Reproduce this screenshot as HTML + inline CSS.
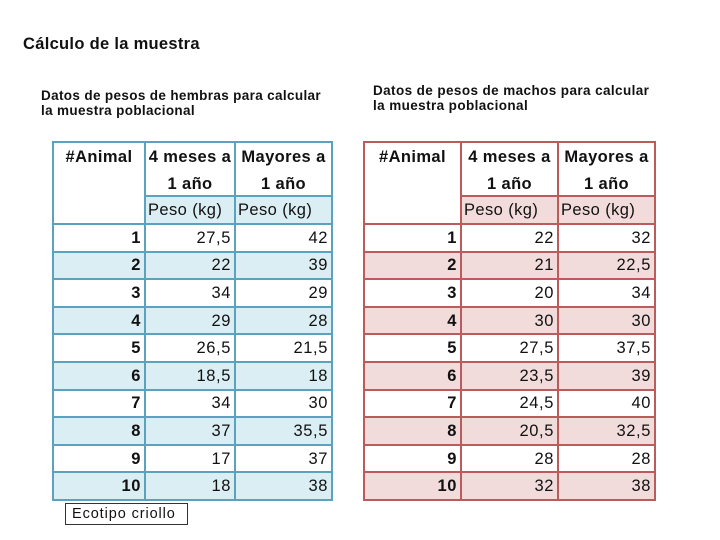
<!DOCTYPE html>
<html><head><meta charset="utf-8">
<style>
html,body{margin:0;padding:0;background:#fff;}
body{width:720px;height:540px;position:relative;overflow:hidden;font-family:"Liberation Sans",Arial,sans-serif;color:#111;}
.t{position:absolute;white-space:nowrap;font-weight:bold;}
.c{position:absolute;box-sizing:border-box;border:2px solid;display:flex;align-items:center;justify-content:flex-end;padding-right:3px;font-size:16.5px;letter-spacing:0.6px;white-space:nowrap;padding-top:1px;}
.L{border-color:#5ba2bf;}
.R{border-color:#bb5b5b;}
.L.f{background:#dbeef3;}
.R.f{background:#f2dcdb;}
.b{font-weight:bold;}
.h{display:block;text-align:center;line-height:27px;padding:1px 0 0 0;font-weight:bold;letter-spacing:0.4px;}
.p{justify-content:flex-start;padding-left:2px;padding-right:0;letter-spacing:0.4px;}
</style></head><body>

<div class="t" style="left:23px;top:36px;font-size:16.5px;line-height:16px;letter-spacing:0.3px;">Cálculo de la muestra</div>
<div class="t" style="left:41px;top:88.8px;font-size:13.5px;line-height:14.8px;letter-spacing:0.35px;">Datos de pesos de hembras para calcular<br>la muestra poblacional</div>
<div class="t" style="left:373px;top:83.8px;font-size:13.5px;line-height:14.8px;letter-spacing:0.4px;">Datos de pesos de machos para calcular<br>la muestra poblacional</div>

<!-- LEFT TABLE -->
<div class="c L h" style="left:52px;top:141px;width:94px;height:84px;">#Animal</div>
<div class="c L h" style="left:144px;top:141px;width:92px;height:56px;">4 meses a<br>1 año</div>
<div class="c L h" style="left:234px;top:141px;width:99px;height:56px;">Mayores a<br>1 año</div>
<div class="c L f p" style="left:144px;top:195px;width:92px;height:30px;">Peso (kg)</div>
<div class="c L f p" style="left:234px;top:195px;width:99px;height:30px;">Peso (kg)</div>

<div class="c L b" style="left:52px;top:223px;width:94px;height:29.6px;">1</div>
<div class="c L" style="left:144px;top:223px;width:92px;height:29.6px;">27,5</div>
<div class="c L" style="left:234px;top:223px;width:99px;height:29.6px;">42</div>

<div class="c L f b" style="left:52px;top:250.6px;width:94px;height:29.6px;">2</div>
<div class="c L f" style="left:144px;top:250.6px;width:92px;height:29.6px;">22</div>
<div class="c L f" style="left:234px;top:250.6px;width:99px;height:29.6px;">39</div>

<div class="c L b" style="left:52px;top:278.2px;width:94px;height:29.6px;">3</div>
<div class="c L" style="left:144px;top:278.2px;width:92px;height:29.6px;">34</div>
<div class="c L" style="left:234px;top:278.2px;width:99px;height:29.6px;">29</div>

<div class="c L f b" style="left:52px;top:305.8px;width:94px;height:29.6px;">4</div>
<div class="c L f" style="left:144px;top:305.8px;width:92px;height:29.6px;">29</div>
<div class="c L f" style="left:234px;top:305.8px;width:99px;height:29.6px;">28</div>

<div class="c L b" style="left:52px;top:333.4px;width:94px;height:29.6px;">5</div>
<div class="c L" style="left:144px;top:333.4px;width:92px;height:29.6px;">26,5</div>
<div class="c L" style="left:234px;top:333.4px;width:99px;height:29.6px;">21,5</div>

<div class="c L f b" style="left:52px;top:361px;width:94px;height:29.6px;">6</div>
<div class="c L f" style="left:144px;top:361px;width:92px;height:29.6px;">18,5</div>
<div class="c L f" style="left:234px;top:361px;width:99px;height:29.6px;">18</div>

<div class="c L b" style="left:52px;top:388.6px;width:94px;height:29.6px;">7</div>
<div class="c L" style="left:144px;top:388.6px;width:92px;height:29.6px;">34</div>
<div class="c L" style="left:234px;top:388.6px;width:99px;height:29.6px;">30</div>

<div class="c L f b" style="left:52px;top:416.2px;width:94px;height:29.6px;">8</div>
<div class="c L f" style="left:144px;top:416.2px;width:92px;height:29.6px;">37</div>
<div class="c L f" style="left:234px;top:416.2px;width:99px;height:29.6px;">35,5</div>

<div class="c L b" style="left:52px;top:443.8px;width:94px;height:29.6px;">9</div>
<div class="c L" style="left:144px;top:443.8px;width:92px;height:29.6px;">17</div>
<div class="c L" style="left:234px;top:443.8px;width:99px;height:29.6px;">37</div>

<div class="c L f b" style="left:52px;top:471.4px;width:94px;height:29.6px;">10</div>
<div class="c L f" style="left:144px;top:471.4px;width:92px;height:29.6px;">18</div>
<div class="c L f" style="left:234px;top:471.4px;width:99px;height:29.6px;">38</div>

<!-- RIGHT TABLE -->
<div class="c R h" style="left:363px;top:141px;width:99px;height:84px;">#Animal</div>
<div class="c R h" style="left:460px;top:141px;width:99px;height:56px;">4 meses a<br>1 año</div>
<div class="c R h" style="left:557px;top:141px;width:99px;height:56px;">Mayores a<br>1 año</div>
<div class="c R f p" style="left:460px;top:195px;width:99px;height:30px;">Peso (kg)</div>
<div class="c R f p" style="left:557px;top:195px;width:99px;height:30px;">Peso (kg)</div>

<div class="c R b" style="left:363px;top:223px;width:99px;height:29.6px;">1</div>
<div class="c R" style="left:460px;top:223px;width:99px;height:29.6px;">22</div>
<div class="c R" style="left:557px;top:223px;width:99px;height:29.6px;">32</div>

<div class="c R f b" style="left:363px;top:250.6px;width:99px;height:29.6px;">2</div>
<div class="c R f" style="left:460px;top:250.6px;width:99px;height:29.6px;">21</div>
<div class="c R f" style="left:557px;top:250.6px;width:99px;height:29.6px;">22,5</div>

<div class="c R b" style="left:363px;top:278.2px;width:99px;height:29.6px;">3</div>
<div class="c R" style="left:460px;top:278.2px;width:99px;height:29.6px;">20</div>
<div class="c R" style="left:557px;top:278.2px;width:99px;height:29.6px;">34</div>

<div class="c R f b" style="left:363px;top:305.8px;width:99px;height:29.6px;">4</div>
<div class="c R f" style="left:460px;top:305.8px;width:99px;height:29.6px;">30</div>
<div class="c R f" style="left:557px;top:305.8px;width:99px;height:29.6px;">30</div>

<div class="c R b" style="left:363px;top:333.4px;width:99px;height:29.6px;">5</div>
<div class="c R" style="left:460px;top:333.4px;width:99px;height:29.6px;">27,5</div>
<div class="c R" style="left:557px;top:333.4px;width:99px;height:29.6px;">37,5</div>

<div class="c R f b" style="left:363px;top:361px;width:99px;height:29.6px;">6</div>
<div class="c R f" style="left:460px;top:361px;width:99px;height:29.6px;">23,5</div>
<div class="c R f" style="left:557px;top:361px;width:99px;height:29.6px;">39</div>

<div class="c R b" style="left:363px;top:388.6px;width:99px;height:29.6px;">7</div>
<div class="c R" style="left:460px;top:388.6px;width:99px;height:29.6px;">24,5</div>
<div class="c R" style="left:557px;top:388.6px;width:99px;height:29.6px;">40</div>

<div class="c R f b" style="left:363px;top:416.2px;width:99px;height:29.6px;">8</div>
<div class="c R f" style="left:460px;top:416.2px;width:99px;height:29.6px;">20,5</div>
<div class="c R f" style="left:557px;top:416.2px;width:99px;height:29.6px;">32,5</div>

<div class="c R b" style="left:363px;top:443.8px;width:99px;height:29.6px;">9</div>
<div class="c R" style="left:460px;top:443.8px;width:99px;height:29.6px;">28</div>
<div class="c R" style="left:557px;top:443.8px;width:99px;height:29.6px;">28</div>

<div class="c R f b" style="left:363px;top:471.4px;width:99px;height:29.6px;">10</div>
<div class="c R f" style="left:460px;top:471.4px;width:99px;height:29.6px;">32</div>
<div class="c R f" style="left:557px;top:471.4px;width:99px;height:29.6px;">38</div>

<div style="position:absolute;left:65px;top:503px;width:123px;height:22px;box-sizing:border-box;border:1px solid #333;font-size:14.5px;letter-spacing:0.9px;line-height:20px;padding-left:6px;white-space:nowrap;">Ecotipo criollo</div>

</body></html>
